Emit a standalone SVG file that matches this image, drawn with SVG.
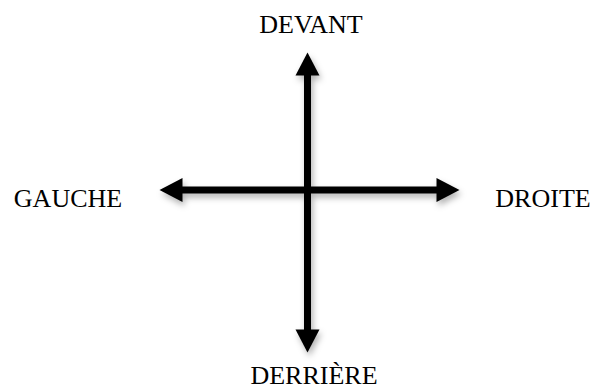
<svg xmlns="http://www.w3.org/2000/svg" width="597" height="390" viewBox="0 0 597 390">
<style>
.lbl{font-family:"Liberation Serif","Times New Roman",serif;font-size:26px;fill:#000;text-anchor:middle}
.ax{stroke:#000;stroke-width:7;fill:none;marker-start:url(#head);marker-end:url(#head)}
</style>
<defs>
<marker id="head" markerUnits="userSpaceOnUse" markerWidth="24" markerHeight="25" refX="0.5" refY="12" orient="auto-start-reverse" overflow="visible">
<path d="M0,0 L23,12 L0,24 Z" fill="#000"/>
</marker>
<filter id="sh" x="-20%" y="-20%" width="140%" height="140%">
<feDropShadow dx="2" dy="4" stdDeviation="3" flood-color="#000" flood-opacity="0.3"/>
</filter>
</defs>
<rect width="597" height="390" fill="#fff"/>
<g id="connectors" filter="url(#sh)">
<path class="ax" d="M307.5 75 L307.5 330"/>
<path class="ax" d="M182 190 L437 190"/>
</g>
<g id="devant"><text class="lbl" x="311" y="33">DEVANT</text></g>
<g id="gauche"><text class="lbl" x="68" y="207">GAUCHE</text></g>
<g id="droite"><text class="lbl" x="543" y="207">DROITE</text></g>
<g id="derriere"><text class="lbl" x="314" y="384">DERRIÈRE</text></g>
</svg>
